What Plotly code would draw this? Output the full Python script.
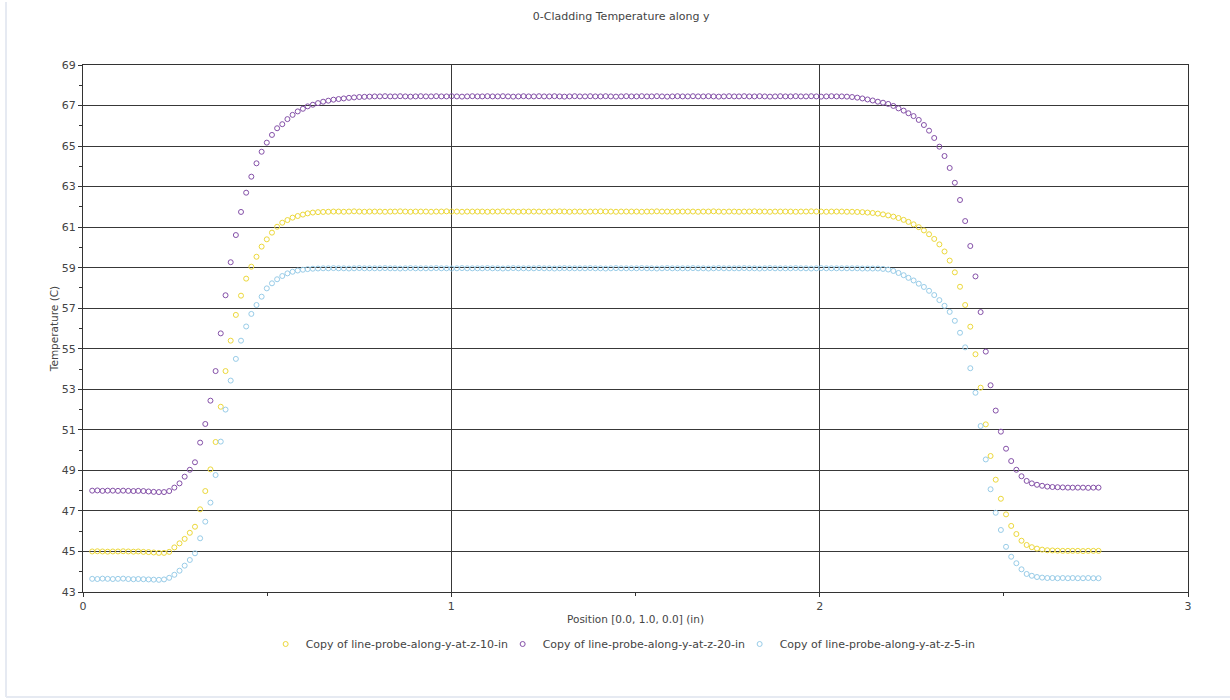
import plotly.graph_objects as go

# ---------------- data ----------------
position_in = [
    0.025, 0.039, 0.053, 0.067, 0.081, 0.095, 0.109, 0.123, 0.137, 0.150,
    0.164, 0.178, 0.192, 0.206, 0.220, 0.234, 0.248, 0.262, 0.276, 0.290,
    0.304, 0.318, 0.332, 0.346, 0.360, 0.374, 0.387, 0.401, 0.415, 0.429,
    0.443, 0.457, 0.471, 0.485, 0.499, 0.513, 0.527, 0.541, 0.555, 0.569,
    0.583, 0.597, 0.610, 0.624, 0.638, 0.652, 0.666, 0.680, 0.694, 0.708,
    0.722, 0.736, 0.750, 0.764, 0.778, 0.792, 0.806, 0.820, 0.834, 0.847,
    0.861, 0.875, 0.889, 0.903, 0.917, 0.931, 0.945, 0.959, 0.973, 0.987,
    1.001, 1.015, 1.029, 1.043, 1.057, 1.071, 1.084, 1.098, 1.112, 1.126,
    1.140, 1.154, 1.168, 1.182, 1.196, 1.210, 1.224, 1.238, 1.252, 1.266,
    1.280, 1.294, 1.307, 1.321, 1.335, 1.349, 1.363, 1.377, 1.391, 1.405,
    1.419, 1.433, 1.447, 1.461, 1.475, 1.489, 1.503, 1.517, 1.531, 1.544,
    1.558, 1.572, 1.586, 1.600, 1.614, 1.628, 1.642, 1.656, 1.670, 1.684,
    1.698, 1.712, 1.726, 1.740, 1.754, 1.768, 1.781, 1.795, 1.809, 1.823,
    1.837, 1.851, 1.865, 1.879, 1.893, 1.907, 1.921, 1.935, 1.949, 1.963,
    1.977, 1.991, 2.004, 2.018, 2.032, 2.046, 2.060, 2.074, 2.088, 2.102,
    2.116, 2.130, 2.144, 2.158, 2.172, 2.186, 2.200, 2.214, 2.228, 2.241,
    2.255, 2.269, 2.283, 2.297, 2.311, 2.325, 2.339, 2.353, 2.367, 2.381,
    2.395, 2.409, 2.423, 2.437, 2.451, 2.464, 2.478, 2.492, 2.506, 2.520,
    2.534, 2.548, 2.562, 2.576, 2.590, 2.604, 2.618, 2.632, 2.646, 2.660,
    2.674, 2.687, 2.701, 2.715, 2.729, 2.743, 2.757,
]

temp_z10 = [
    # i 0-15
    45.00, 45.01, 45.00, 44.99, 45.00, 45.00, 45.01, 45.00, 44.99, 45.00,
    44.98, 44.97, 44.95, 44.93, 44.93, 44.98,
    # i 16-45
    45.20, 45.40, 45.62, 45.92, 46.22, 47.08, 47.98, 49.05, 50.40, 52.14,
    53.90, 55.40, 56.67, 57.62, 58.46, 59.05, 59.54, 60.04, 60.40, 60.73,
    61.02, 61.22, 61.35, 61.47, 61.55, 61.62, 61.68, 61.72, 61.74, 61.75,
    # i 46-147 plateau
    61.76, 61.77, 61.77, 61.76, 61.77, 61.78, 61.77, 61.76, 61.77, 61.77,
    61.77, 61.76, 61.77, 61.77, 61.78, 61.77, 61.76, 61.77, 61.77, 61.77,
    61.76, 61.77, 61.77, 61.78, 61.77, 61.77, 61.76, 61.77, 61.77, 61.77,
    61.77, 61.76, 61.77, 61.77, 61.78, 61.77, 61.77, 61.76, 61.77, 61.77,
    61.77, 61.77, 61.76, 61.77, 61.77, 61.78, 61.77, 61.76, 61.77, 61.77,
    61.76, 61.77, 61.77, 61.78, 61.77, 61.77, 61.76, 61.77, 61.77, 61.77,
    61.77, 61.76, 61.77, 61.77, 61.78, 61.77, 61.77, 61.76, 61.77, 61.77,
    61.77, 61.77, 61.76, 61.77, 61.77, 61.78, 61.77, 61.76, 61.77, 61.77,
    61.76, 61.77, 61.77, 61.78, 61.77, 61.77, 61.76, 61.77, 61.77, 61.77,
    61.77, 61.76, 61.77, 61.77, 61.78, 61.77, 61.77, 61.76, 61.77, 61.77,
    61.77, 61.76,
    # i 148-196
    61.76, 61.75, 61.74, 61.72, 61.70,
    61.67, 61.63, 61.58, 61.52, 61.45, 61.36, 61.26, 61.14, 61.00, 60.84,
    60.65, 60.42, 60.15, 59.80, 59.35, 58.77, 58.06, 57.16, 56.09, 54.73,
    53.08, 51.27, 49.71, 48.54, 47.60, 46.83, 46.26, 45.86, 45.53, 45.32,
    45.21, 45.14, 45.09, 45.06, 45.05, 45.04, 45.03, 45.03, 45.03, 45.03,
    45.02, 45.03, 45.03, 45.03,
]

temp_z20 = [
    # i 0-15
    48.00, 48.01, 47.99, 48.00, 48.00, 47.99, 48.00, 47.99, 47.98, 47.99,
    47.98, 47.96, 47.94, 47.93, 47.93, 47.98,
    # i 16-55
    48.15, 48.36, 48.69, 49.03, 49.40, 50.37, 51.29, 52.44, 53.90, 55.76,
    57.64, 59.27, 60.61, 61.75, 62.70, 63.49, 64.15, 64.72, 65.17, 65.55,
    65.88, 66.08, 66.33, 66.54, 66.71, 66.84, 66.96, 67.04, 67.12, 67.19,
    67.24, 67.29, 67.32, 67.35, 67.38, 67.40, 67.42, 67.43, 67.44, 67.45,
    # i 56-147 plateau
    67.45, 67.46, 67.45, 67.45, 67.46, 67.45, 67.44, 67.45, 67.46, 67.45,
    67.45, 67.46, 67.45, 67.45, 67.46, 67.45, 67.44, 67.45, 67.46, 67.45,
    67.45, 67.46, 67.45, 67.45, 67.46, 67.45, 67.44, 67.45, 67.46, 67.45,
    67.45, 67.46, 67.45, 67.45, 67.46, 67.45, 67.44, 67.45, 67.46, 67.45,
    67.45, 67.46, 67.45, 67.45, 67.46, 67.45, 67.44, 67.45, 67.46, 67.45,
    67.45, 67.46, 67.45, 67.45, 67.46, 67.45, 67.44, 67.45, 67.46, 67.45,
    67.45, 67.46, 67.45, 67.45, 67.46, 67.45, 67.44, 67.45, 67.46, 67.45,
    67.45, 67.46, 67.45, 67.45, 67.46, 67.45, 67.44, 67.45, 67.46, 67.45,
    67.45, 67.46, 67.45, 67.45, 67.46, 67.45, 67.44, 67.45, 67.46, 67.45,
    67.45, 67.44,
    # i 148-196
    67.42, 67.39, 67.35, 67.30, 67.25,
    67.19, 67.14, 67.08, 66.98, 66.86, 66.75, 66.62, 66.48, 66.29, 66.04,
    65.76, 65.40, 64.97, 64.51, 63.92, 63.19, 62.34, 61.30, 60.07, 58.57,
    56.81, 54.86, 53.20, 51.95, 50.91, 50.07, 49.46, 49.03, 48.71, 48.48,
    48.36, 48.29, 48.24, 48.20, 48.18, 48.17, 48.16, 48.15, 48.15, 48.15,
    48.15, 48.14, 48.15, 48.15,
]

temp_z5 = [
    # i 0-15
    43.65, 43.64, 43.66, 43.65, 43.64, 43.65, 43.66, 43.64, 43.63, 43.64,
    43.63, 43.62, 43.61, 43.60, 43.62, 43.70,
    # i 16-45
    43.85, 44.05, 44.30, 44.58, 44.91, 45.65, 46.47, 47.41, 48.77, 50.42,
    52.00, 53.43, 54.50, 55.40, 56.10, 56.72, 57.16, 57.57, 57.98, 58.23,
    58.43, 58.59, 58.72, 58.80, 58.86, 58.90, 58.93, 58.95, 58.96, 58.97,
    # i 46-147 plateau
    58.97, 58.98, 58.97, 58.97, 58.96, 58.97, 58.98, 58.97, 58.97, 58.97,
    58.97, 58.98, 58.97, 58.97, 58.96, 58.97, 58.98, 58.97, 58.97, 58.97,
    58.97, 58.98, 58.97, 58.97, 58.96, 58.97, 58.98, 58.97, 58.97, 58.97,
    58.97, 58.98, 58.97, 58.97, 58.96, 58.97, 58.98, 58.97, 58.97, 58.97,
    58.97, 58.98, 58.97, 58.97, 58.96, 58.97, 58.98, 58.97, 58.97, 58.97,
    58.97, 58.98, 58.97, 58.97, 58.96, 58.97, 58.98, 58.97, 58.97, 58.97,
    58.97, 58.98, 58.97, 58.97, 58.96, 58.97, 58.98, 58.97, 58.97, 58.97,
    58.97, 58.98, 58.97, 58.97, 58.96, 58.97, 58.98, 58.97, 58.97, 58.97,
    58.97, 58.98, 58.97, 58.97, 58.96, 58.97, 58.98, 58.97, 58.97, 58.97,
    58.97, 58.98, 58.97, 58.97, 58.96, 58.97, 58.98, 58.97, 58.97, 58.97,
    58.97, 58.97,
    # i 148-196
    58.97, 58.97, 58.96, 58.96, 58.96,
    58.96, 58.94, 58.91, 58.84, 58.74, 58.63, 58.50, 58.37, 58.21, 58.05,
    57.86, 57.65, 57.40, 57.12, 56.82, 56.38, 55.79,
    55.07, 54.04, 52.83, 51.19, 49.54, 48.07, 46.91, 46.06, 45.23, 44.74,
    44.42, 44.12, 43.89, 43.80, 43.74, 43.71, 43.69, 43.69, 43.68, 43.69,
    43.68, 43.69, 43.68, 43.68, 43.69, 43.68, 43.68,
]

series_names = [
    "Copy of line-probe-along-y-at-z-10-in",
    "Copy of line-probe-along-y-at-z-20-in",
    "Copy of line-probe-along-y-at-z-5-in",
]
series_values = [temp_z10, temp_z20, temp_z5]
series_colors = ["#ecd83a", "#8450a8", "#98cce8"]

x_ticks = [0, 1, 2, 3]
y_ticks = [43, 45, 47, 49, 51, 53, 55, 57, 59, 61, 63, 65, 67, 69]

# ---------------- figure ----------------
FONT = "DejaVu Sans"
TXT = "#444444"
GRID = "#383838"

fig = go.Figure()
for name, vals, col in zip(series_names, series_values, series_colors):
    fig.add_trace(go.Scatter(
        x=position_in, y=vals, mode="markers", name=name,
        marker=dict(symbol="circle-open", size=5, color=col,
                    line=dict(width=1, color=col)),
    ))

fig.update_layout(
    width=1230, height=700,
    paper_bgcolor="white", plot_bgcolor="white",
    margin=dict(l=83, r=42, t=65, b=108, autoexpand=False),
    font=dict(family=FONT, size=10, color=TXT),
    title=dict(text="0-Cladding Temperature along y", x=0.505, xref="container",
               xanchor="center", y=1 - 16 / 700, yref="container", yanchor="middle",
               font=dict(family=FONT, size=11, color=TXT)),
    showlegend=True,
    legend=dict(orientation="h", x=0.505, xref="container", xanchor="center",
                y=1 - 644 / 700, yref="container", yanchor="middle",
                font=dict(family=FONT, size=11, color=TXT),
                itemwidth=30, entrywidth=192, entrywidthmode="pixels",
                tracegroupgap=0, bgcolor="rgba(0,0,0,0)"),
    shapes=[
        dict(type="line", xref="paper", yref="paper",
             x0=(6 - 83) / 1105, x1=(6 - 83) / 1105,
             y0=(592 - 2) / 527, y1=(592 - 697) / 527,
             line=dict(color="#e6eaf2", width=2)),
        dict(type="line", xref="paper", yref="paper",
             x0=(6 - 83) / 1105, x1=(1230 - 83) / 1105,
             y0=(592 - 697) / 527, y1=(592 - 697) / 527,
             line=dict(color="#e6eaf2", width=2)),
    ],
)

fig.update_xaxes(
    range=[0, 3], tickvals=x_ticks, ticktext=[str(v) for v in x_ticks],
    showgrid=True, gridcolor=GRID, gridwidth=1.3,
    showline=True, linecolor="#333333", linewidth=1.3, mirror=True,
    ticks="outside", ticklen=4, tickcolor="#333333",
    minor=dict(dtick=0.5, tick0=0, ticks="outside", ticklen=3,
               tickcolor="#333333", showgrid=False),
    tickfont=dict(family=FONT, size=11, color=TXT),
    title=dict(text="Position [0.0, 1.0, 0.0] (in)", standoff=3,
               font=dict(family=FONT, size=10.5, color=TXT)),
    zeroline=False,
)
fig.update_yaxes(
    range=[43, 69], tickvals=y_ticks, ticktext=[str(v) for v in y_ticks],
    showgrid=True, gridcolor=GRID, gridwidth=1.3,
    showline=True, linecolor="#333333", linewidth=1.3, mirror=True,
    ticks="outside", ticklen=4, tickcolor="#333333",
    minor=dict(dtick=1, tick0=43, ticks="outside", ticklen=3,
               tickcolor="#333333", showgrid=False),
    tickfont=dict(family=FONT, size=11, color=TXT),
    title=dict(text="Temperature (C)", standoff=0,
               font=dict(family=FONT, size=10.5, color=TXT)),
    zeroline=False,
)

fig.write_html("out.html")
